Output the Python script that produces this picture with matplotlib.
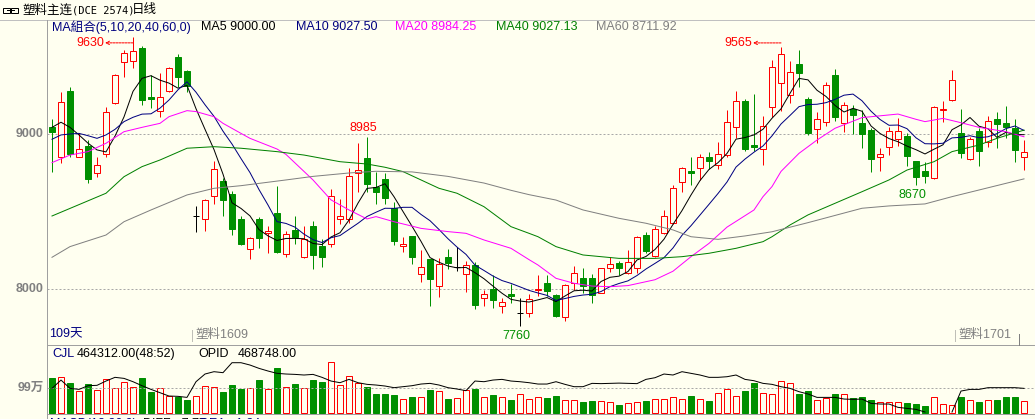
import matplotlib
matplotlib.use('Agg')
import matplotlib.pyplot as plt
from matplotlib.patches import Rectangle
from matplotlib.lines import Line2D
import numpy as np
import pandas as pd

plt.rcParams['font.family'] = ['Liberation Sans', 'Noto Sans CJK SC', 'DejaVu Sans']

W, H = 1035, 419
BG = '#fffff0'
RED = '#ff0000'
GREEN = '#009000'
GRID = '#a8a8a8'
TXTGRAY = '#808080'

# ---- daily bars (塑料主连) ----
opens = [9045, 8856, 9280, 8856, 8925, 8748, 8871, 9200, 9470, 9476,
         9558, 9239, 9149, 9282, 9498, 9409, 8472, 8450, 8599, 8698,
         8614, 8450, 8257, 8450, 8360, 8489, 8224, 8382, 8205, 8407,
         8278, 8289, 8455, 8450, 8750, 8847, 8657, 8711, 8522, 8276,
         8343, 8095, 8194, 8022, 8205, 8144, 8095, 8155, 7940, 8002,
         7890, 7968, 7843, 7843, 7994, 8037, 7961, 7821, 8037, 8069,
         8069, 7976, 8134, 8170, 8101, 8138, 8347, 8213, 8360, 8425,
         8690, 8761, 8780, 8853, 8800, 8866, 9050, 9216, 8929, 8903,
         9175, 9330, 9254, 9455, 9226, 9032, 9078, 9384, 9071, 9164,
         9073, 9028, 8851, 8916, 8972, 8989, 8828, 8763, 8716, 9159,
         9220, 9006, 8838, 9024, 8953, 9097, 9071, 9039, 8851]
highs = [9099, 9276, 9306, 9006, 8963, 8851, 9177, 9392, 9545, 9630,
         9571, 9384, 9394, 9437, 9519, 9416, 8539, 8584, 8828, 8720,
         8634, 8472, 8338, 8466, 8407, 8666, 8373, 8472, 8407, 8440,
         8325, 8647, 8582, 8782, 8946, 8985, 8759, 8752, 8560, 8338,
         8345, 8252, 8196, 8198, 8257, 8269, 8183, 8177, 7993, 8091,
         7944, 8032, 7940, 7965, 8088, 8088, 7968, 8030, 8149, 8134,
         8095, 8134, 8205, 8181, 8252, 8343, 8366, 8407, 8511, 8672,
         8791, 8856, 8873, 8884, 8953, 9157, 9280, 9226, 9261, 9119,
         9481, 9565, 9476, 9545, 9239, 9144, 9340, 9420, 9211, 9190,
         9157, 9039, 8910, 9050, 9103, 9006, 8830, 8823, 9183, 9216,
         9416, 9164, 8985, 9039, 9119, 9144, 9183, 9097, 8963]
lows = [8759, 8817, 8856, 8851, 8688, 8722, 8856, 9196, 9369, 9427,
        9187, 9172, 9114, 9276, 9308, 9276, 8371, 8377, 8547, 8474,
        8349, 8285, 8192, 8267, 8231, 8235, 8205, 8289, 8200, 8132,
        8142, 8269, 8420, 8425, 8629, 8629, 8552, 8552, 8287, 8241,
        8162, 8047, 7892, 7946, 8132, 8119, 7978, 7869, 7892, 7875,
        7843, 7912, 7760, 7821, 7955, 7955, 7821, 7795, 7994, 7972,
        7907, 7972, 8112, 8091, 8095, 8101, 8231, 8205, 8354, 8418,
        8629, 8672, 8705, 8774, 8776, 8851, 8976, 8892, 8892, 8802,
        9114, 9151, 9205, 9308, 8996, 8942, 9054, 9088, 9017, 9002,
        8912, 8759, 8765, 8866, 8925, 8795, 8670, 8688, 8709, 9078,
        9216, 8845, 8834, 8795, 8920, 8914, 8974, 8823, 8769]
closes = [9017, 9207, 8873, 8903, 8713, 8800, 9142, 9384, 9524, 9537,
          9222, 9228, 9239, 9429, 9373, 9315, 8472, 8573, 8774, 8578,
          8390, 8289, 8332, 8332, 8375, 8241, 8354, 8334, 8321, 8222,
          8205, 8599, 8472, 8731, 8769, 8681, 8629, 8591, 8313, 8291,
          8205, 8140, 8067, 8162, 8170, 8144, 8155, 7897, 7966, 7931,
          7914, 7957, 7843, 7933, 8002, 7989, 7826, 8024, 8101, 8022,
          7961, 8134, 8160, 8138, 8172, 8334, 8248, 8386, 8470, 8651,
          8780, 8752, 8851, 8830, 8871, 9078, 9213, 8903, 8916, 9054,
          9433, 9517, 9405, 9399, 9006, 9097, 9317, 9114, 9187, 9125,
          9002, 8843, 8871, 9022, 9022, 8862, 8726, 8733, 9175, 9166,
          9349, 8881, 8972, 8894, 9084, 9067, 9050, 8899, 8888]

# CJL (万手) and OPID (万手)
volumes = [137, 140, 117, 86, 114, 88, 132, 98, 120, 100,
           137, 82, 96, 67, 62, 50, 65, 104, 100, 82,
           110, 94, 98, 129, 94, 177, 100, 114, 98, 129,
           121, 199, 108, 144, 116, 102, 74, 74, 70, 53,
           62, 61, 90, 86, 54, 57, 88, 94, 62, 70,
           62, 50, 74, 53, 62, 58, 66, 50, 50, 42,
           46, 46, 41, 30, 37, 42, 46, 53, 53, 61,
           53, 66, 53, 46, 77, 92, 65, 86, 117, 77,
           73, 124, 116, 74, 86, 49, 58, 74, 73, 58,
           62, 49, 42, 42, 42, 38, 34, 26, 61, 33,
           29, 61, 49, 42, 49, 49, 61, 61, 46.4312]
opid = [46.9, 62.9, 46.9, 44.9, 52.0, 52.7, 61.0, 68.1, 66.1, 59.7,
        52.0, 44.9, 38.5, 32.1, 31.5, 29.5, 59.7, 74.5, 79.0, 77.1,
        96.3, 96.3, 91.8, 85.4, 80.3, 75.8, 74.5, 73.8, 72.6, 73.8,
        68.1, 61.0, 57.8, 64.2, 57.8, 54.6, 53.3, 51.4, 48.2, 50.1,
        52.0, 55.2, 56.5, 53.3, 48.2, 45.6, 42.4, 61.0, 59.7, 62.9,
        64.2, 61.0, 59.7, 57.8, 55.2, 55.2, 59.7, 54.6, 50.1, 50.1,
        56.5, 56.0, 56.5, 57.0, 56.5, 56.0, 64.2, 67.4, 74.5, 72.6,
        79.0, 75.8, 72.6, 68.1, 68.1, 69.3, 72.6, 64.2, 61.6, 56.5,
        54.6, 50.1, 46.9, 40.5, 36.0, 29.5, 29.5, 29.5, 26.3, 25.7,
        26.3, 18.0, 16.7, 16.7, 10.3, 8.3, 6.4, 1.3, None, None,
        1.3, 41.7, 44.9, 44.9, 48.2, 48.2, 48.2, 48.2, 46.8748]

# MA values before enough bars exist in this window
ma5_lead = [9045, 9078, 9045, 8996]
ma10_lead = [8968, 8996, 9002, 9006, 8991, 8974, 8996, 9032, 9082]
ma20_idx = [0, 2, 4, 6, 8, 10, 12, 13, 15, 16, 18, 19, 21, 22, 25, 26, 29, 31, 33, 35,
            36, 38, 41, 44, 46, 48, 51, 53, 54, 56, 58, 60, 62, 64, 67, 69, 71, 73, 75, 78,
            79, 80, 81, 83, 85, 87, 90, 94, 96, 97, 99, 101, 103, 106, 108]
ma20_val = [8817, 8866, 8888, 8942, 9017, 9045, 9071, 9114, 9153, 9147, 9114, 9071, 9006, 8974,
            8905, 8870, 8705, 8576, 8511, 8453, 8468, 8435, 8392, 8371, 8360, 8317, 8263, 8190,
            8155, 8069, 8037, 8019, 8015, 8022, 8060, 8115, 8209, 8295, 8400, 8511, 8597, 8662,
            8760, 8877, 8963, 9039, 9108, 9131, 9097, 9082, 9103, 9075, 9045, 9017, 8984.25]
ma40_idx = [0, 6, 8, 10, 12, 15, 18, 21, 25, 28, 32, 35, 37, 39, 41, 43, 45, 48, 50, 51, 53,
            54, 56, 59, 63, 67, 70, 73, 76, 79, 80, 82, 84, 87, 90, 93, 95, 98, 100, 103,
            105, 108]
ma40_val = [8472, 8619, 8726, 8791, 8834, 8910, 8920, 8910, 8888, 8866, 8823, 8808, 8787, 8759,
            8705, 8651, 8619, 8532, 8446, 8403, 8360, 8338, 8274, 8220, 8198, 8198, 8209, 8231,
            8263, 8306, 8338, 8414, 8479, 8554, 8629, 8705, 8769, 8823, 8888, 8931, 8974, 9027.13]
ma60_idx = [0, 2, 6, 8, 11, 15, 18, 21, 26, 29, 33, 36, 40, 44, 48, 51, 53, 56, 59, 63, 66,
            69, 71, 74, 77, 80, 84, 90, 93, 97, 100, 103, 108]
ma60_val = [8205, 8274, 8349, 8435, 8511, 8608, 8651, 8668, 8705, 8728, 8750, 8761, 8757, 8728,
            8685, 8638, 8610, 8575, 8511, 8457, 8425, 8382, 8338, 8321, 8343, 8370, 8429, 8522,
            8537, 8550, 8597, 8640, 8711.92]

n = len(closes)
idx = np.arange(n)
cl = pd.Series(closes, dtype=float)
ma5 = cl.rolling(5).mean().to_numpy()
ma5[:len(ma5_lead)] = ma5_lead
ma10 = cl.rolling(10).mean().to_numpy()
ma10[:len(ma10_lead)] = ma10_lead


def box(x0, y0, x1, y1):
    return [x0 / W, 1 - y1 / H, (x1 - x0) / W, (y1 - y0) / H]


def txt(x, y, s, **kw):
    kw.setdefault('fontsize', 9)
    kw.setdefault('va', 'center')
    return fig.text(x / W, 1 - y / H, s, **kw)


def hline(y, x0, x1, **kw):
    fig.add_artist(Line2D([x0 / W, x1 / W], [1 - y / H] * 2, **kw))


def vline(x, y0, y1, **kw):
    fig.add_artist(Line2D([x / W] * 2, [1 - y0 / H, 1 - y1 / H], **kw))


fig = plt.figure(figsize=(W / 100, H / 100), dpi=100, facecolor=BG)
LW = 0.72  # one pixel

# ---- price panel ----
ax = fig.add_axes(box(47, 20, 1035, 345))
ax.set_facecolor(BG)
ax.set_xlim(-5 / 9, 983 / 9)
ax.set_ylim(7638, 9739)
ax.axis('off')
for lvl in (9000, 8000):
    ax.axhline(lvl, color=GRID, lw=LW, ls=(0, (2, 2)))

bw = 0.64
for i in range(n):
    o, h, l, c = opens[i], highs[i], lows[i], closes[i]
    if c > o:
        ax.vlines(i, c, h, color=RED, lw=LW)
        ax.vlines(i, l, o, color=RED, lw=LW)
        ax.add_patch(Rectangle((i - bw / 2, o), bw, c - o, facecolor=BG, edgecolor=RED, lw=LW, zorder=3))
    elif c < o:
        ax.vlines(i, l, h, color=GREEN, lw=LW, zorder=2)
        ax.add_patch(Rectangle((i - bw / 2, c), bw, o - c, facecolor=GREEN, edgecolor=GREEN, lw=LW, zorder=3))
    else:
        ax.vlines(i, l, h, color='black', lw=LW)
        ax.hlines(o, i - bw / 2, i + bw / 2, color='black', lw=LW)

ax.plot(idx, ma5, color='black', lw=LW, zorder=4)
ax.plot(idx, ma10, color='#000080', lw=LW, zorder=4)
ax.plot(ma20_idx, ma20_val, color='#ff00ff', lw=LW, zorder=4)
ax.plot(ma40_idx, ma40_val, color='#008000', lw=LW, zorder=4)
ax.plot(ma60_idx, ma60_val, color='#808080', lw=LW, zorder=4)

ppu = 325 / (9739 - 7638)  # pixels per price unit
hi_all = int(np.argmax(highs[:40]))
hi_2 = 40 + int(np.argmax(highs[40:]))
for k, dy in ((hi_all, -6), (hi_2, 4)):
    y = highs[k] + dy / ppu
    ax.annotate('', xy=(k - 28 / 9, y), xytext=(k, y),
                arrowprops=dict(arrowstyle='->', color=RED, lw=LW, ls=(0, (2, 1)),
                                shrinkA=0, shrinkB=0, mutation_scale=6))
    ax.annotate(f'{highs[k]}', xy=(k - 29 / 9, y), ha='right', va='center',
                color=RED, fontsize=9)
k = 35
ax.annotate(f'{highs[k]}', xy=(k, highs[k]), xytext=(-4, 9), textcoords='offset pixels',
            ha='center', va='center', color=RED, fontsize=9)
for k in (52, 96):
    ax.annotate(f'{lows[k]}', xy=(k, lows[k]), xytext=(-4, -10), textcoords='offset pixels',
                ha='center', va='center', color=GREEN, fontsize=9)

# ---- volume panel ----
av = fig.add_axes(box(47, 345, 1035, 413.5))
av.set_facecolor('none')
av.set_xlim(-5 / 9, 983 / 9)
av.set_ylim(-3.17, 268.1)
av.axis('off')
av.axhline(99, color=GRID, lw=LW, ls=(0, (2, 2)))
for i in range(n):
    if closes[i] >= opens[i]:
        av.add_patch(Rectangle((i - bw / 2, 0), bw, volumes[i], facecolor=BG, edgecolor=RED, lw=LW))
    else:
        av.add_patch(Rectangle((i - bw / 2, 0), bw, volumes[i], facecolor=GREEN, edgecolor=GREEN, lw=LW))
ao = av.twinx()
ao.set_xlim(-5 / 9, 983 / 9)
ao.set_ylim(-1.54, 130.4)
ao.axis('off')
ao.plot(idx, np.array([np.nan if v is None else v for v in opid], dtype=float),
        color='black', lw=LW)

# ---- frame lines ----
hline(20, 0, W, color='#c0c0c0', lw=LW)
vline(47, 20, H, color='#a0a0a0', lw=LW)
hline(345, 47, W, color='#a0a0a0', lw=LW)
hline(413.7, 47, W, color='#a0a0a0', lw=LW)

# ---- texts ----
fig.add_artist(Rectangle((3 / W, 1 - 13 / H), 7 / W, 5 / H, transform=fig.transFigure,
                         fill=False, edgecolor='black', lw=LW))
fig.add_artist(Rectangle((11 / W, 1 - 13 / H), 7 / W, 5 / H, transform=fig.transFigure,
                         fill=False, edgecolor='black', lw=LW))
hline(10.5, 7, 14, color='black', lw=LW)
txt(22, 10, '塑料主连', family=['Noto Sans CJK SC'], fontsize=9)
txt(72, 10.5, '(DCE 2574)', family=['DejaVu Sans Mono'], fontsize=7.5)
txt(132, 10, '日线', family=['Noto Sans CJK SC'], fontsize=9)

txt(52, 27, 'MA組合(5,10,20,40,60,0)', color='#000080')
txt(201, 27, 'MA5 9000.00', color='black')
txt(296, 27, 'MA10 9027.50', color='#000080')
txt(395, 27, 'MA20 8984.25', color='#ff00ff')
txt(496, 27, 'MA40 9027.13', color='#008000')
txt(596, 27, 'MA60 8711.92', color='#808080')

txt(44, 134, '9000', ha='right', color=TXTGRAY, fontweight='bold')
txt(44, 289, '8000', ha='right', color=TXTGRAY, fontweight='bold')
txt(44, 388, '99万', ha='right', color=TXTGRAY, fontweight='bold')

txt(49, 334, '109天', color='#000080')
vline(192, 330, 341, color=TXTGRAY, lw=LW, ls=(0, (1, 1)))
txt(195, 335, '塑料1609', color=TXTGRAY)
vline(955, 330, 341, color=TXTGRAY, lw=LW, ls=(0, (1, 1)))
txt(958, 335, '塑料1701', color=TXTGRAY)
vline(1019, 334, 345, color=TXTGRAY, lw=LW)

txt(52, 354, 'CJL', color='#000080')
txt(77, 354, f'{volumes[-1] * 10000:.2f}(48:52)', color='black')
txt(198, 354, 'OPID', color='black')
txt(238, 354, f'{opid[-1] * 10000:.2f}', color='black')

txt(50, 424, 'MACD(12,26,9)', color='#000080')
txt(143, 424, 'DIFF  -7.77', color='black')
txt(200, 424, 'DEA  -1.24', color='#000080')

fig.savefig('out.png', dpi=100, facecolor=BG)
